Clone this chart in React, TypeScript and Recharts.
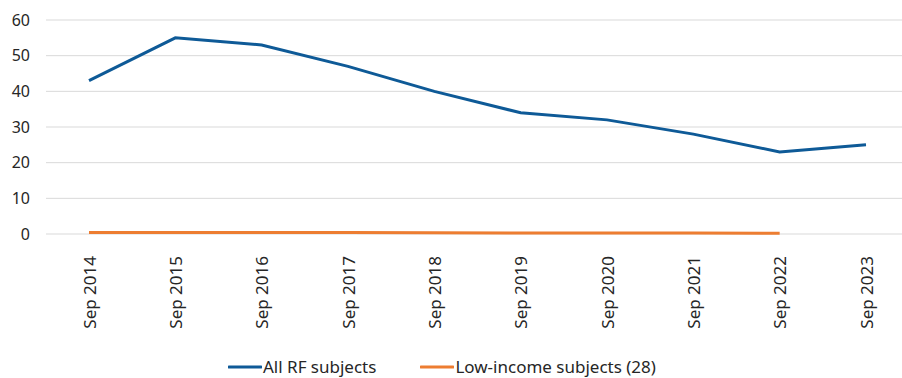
import React from "react";
import { LineChart, Line, XAxis, YAxis, CartesianGrid, Legend } from "recharts";

// Values
const periods = [
  "Sep 2014", "Sep 2015", "Sep 2016", "Sep 2017", "Sep 2018",
  "Sep 2019", "Sep 2020", "Sep 2021", "Sep 2022", "Sep 2023",
];
const allSubjects = [43, 55, 53, 47, 40, 34, 32, 28, 23, 25];
const lowIncome = [0.4, 0.45, 0.45, 0.4, 0.35, 0.3, 0.3, 0.25, 0.2, null];
const yTicks = [0, 10, 20, 30, 40, 50, 60];

const BLUE = "#0E5A97";
const ORANGE = "#ED7D31";
const TEXT = "#262626";
const FONT = "'Noto Sans', sans-serif";

const data = periods.map((p, i) => ({
  period: p,
  all: allSubjects[i],
  low: lowIncome[i],
}));

const RotatedTick = (props: any) => {
  const { x, y, payload } = props;
  return (
    <g transform={`translate(${x},${y + 14})`}>
      <text
        transform="rotate(-90)"
        textAnchor="end"
        dy="0.4em"
        fill={TEXT}
        fontSize={17}
        fontFamily={FONT}
      >
        {payload.value}
      </text>
    </g>
  );
};

const legendItems = [
  { label: "All RF subjects", color: BLUE },
  { label: "Low-income subjects (28)", color: ORANGE },
];

const renderLegend = () => (
  <div
    style={{
      display: "flex",
      justifyContent: "flex-start",
      paddingLeft: 228,
      gap: 44,
      fontFamily: FONT,
      fontSize: 17,
      color: TEXT,
      height: 30,
      alignItems: "center",
      paddingTop: 7,
      boxSizing: "border-box",
    }}
  >
    {legendItems.map((it) => (
      <div key={it.label} style={{ display: "flex", alignItems: "center" }}>
        <svg width={34} height={6}>
          <line x1={1} y1={3} x2={33} y2={3} stroke={it.color} strokeWidth={3} strokeLinecap="round" />
        </svg>
        <span style={{ marginLeft: 1 }}>{it.label}</span>
      </div>
    ))}
  </div>
);

const App = () => {
  return (
    <div style={{ position: "absolute", left: 0, top: 0, background: "#fff" }}>
      <LineChart
        width={902}
        height={378}
        data={data}
        margin={{ top: 20, right: 0, bottom: 0, left: 0 }}
      >
        <CartesianGrid vertical={false} stroke="#d9d9d9" strokeWidth={1} />
        <XAxis
          dataKey="period"
          axisLine={false}
          tickLine={false}
          tick={<RotatedTick />}
          height={114}
          interval={0}
          padding={{ left: 43, right: 36 }}
        />
        <YAxis
          domain={[0, 60]}
          ticks={yTicks}
          axisLine={false}
          tickLine={false}
          tickMargin={10}
          width={46}
          tick={{ fill: TEXT, fontSize: 16, fontFamily: FONT }}
        />
        <Legend
          verticalAlign="bottom"
          content={renderLegend}
          wrapperStyle={{ bottom: 0, left: 0, width: 902, height: 30 }}
        />
        <Line
          dataKey="all"
          stroke={BLUE}
          strokeWidth={3}
          dot={false}
          isAnimationActive={false}
        />
        <Line
          dataKey="low"
          stroke={ORANGE}
          strokeWidth={3}
          dot={false}
          isAnimationActive={false}
        />
      </LineChart>
    </div>
  );
};

export default App;
